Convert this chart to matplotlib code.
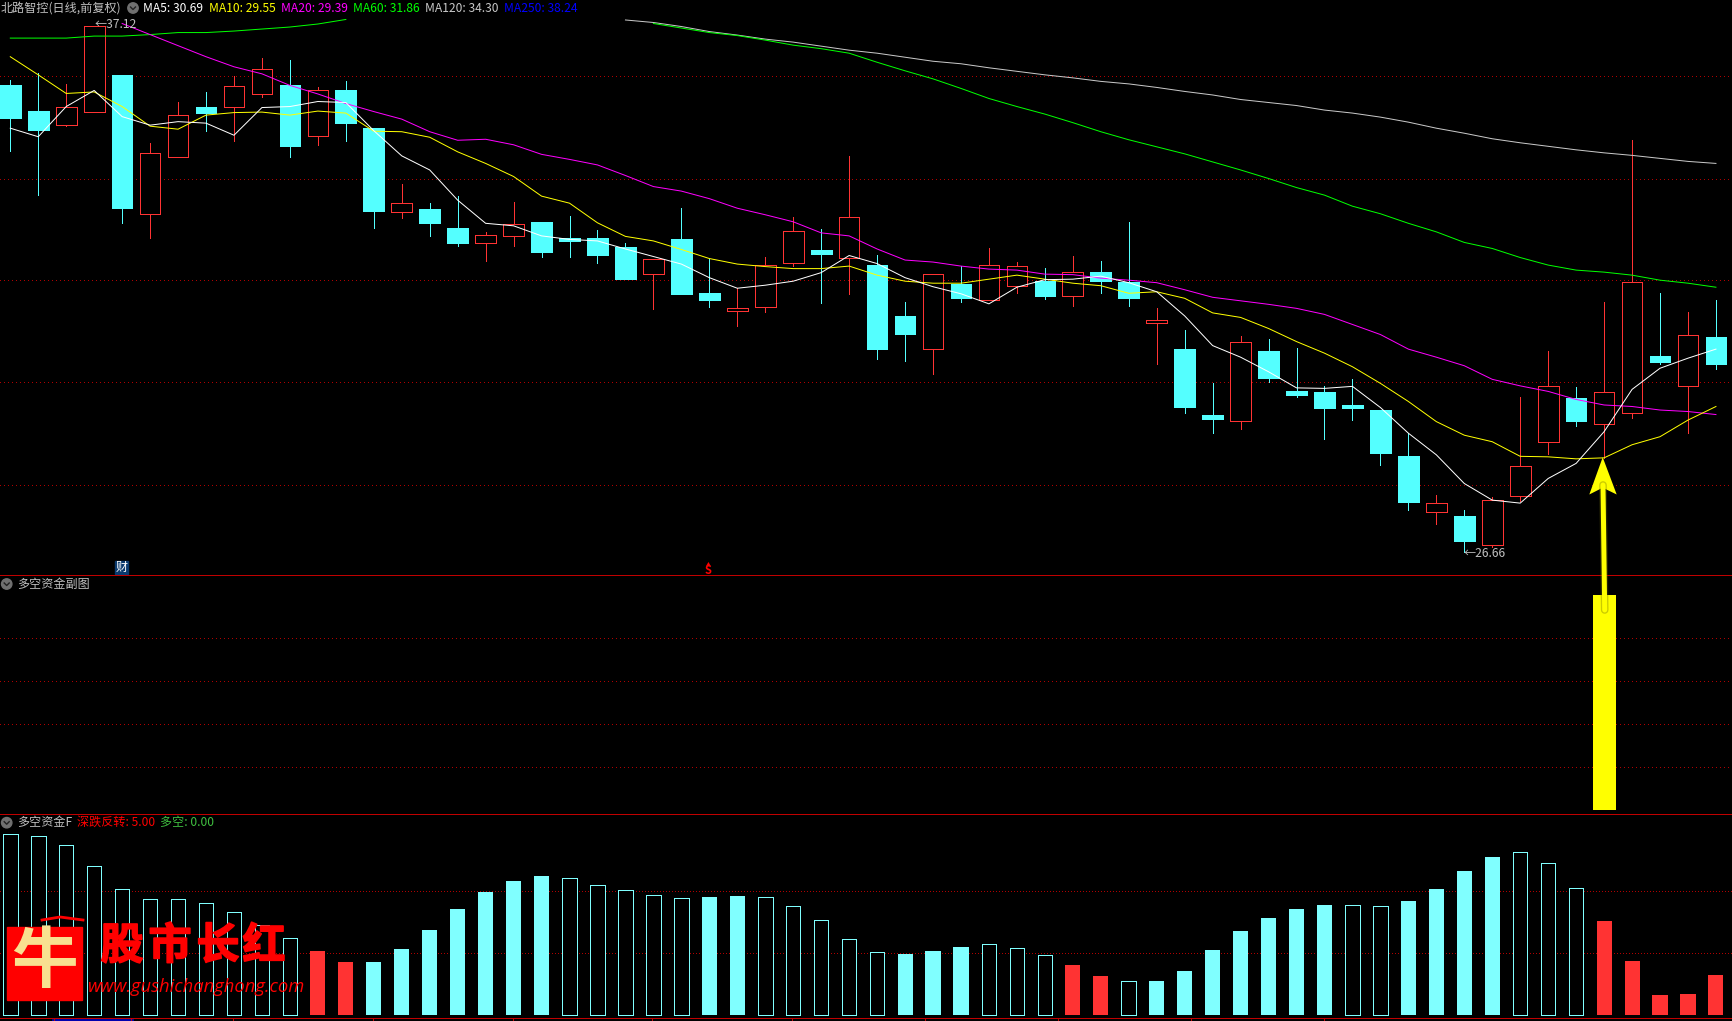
import matplotlib
matplotlib.use("Agg")
import matplotlib.pyplot as plt
from matplotlib.patches import Circle, Polygon, Rectangle
from matplotlib.patheffects import withStroke
import numpy as np

nan = float("nan")

# daily candles, price units
opens = [35.94, 35.42, 35.14, 35.41, 36.14, 33.38, 34.51, 35.50, 35.51, 35.75, 35.94, 34.93, 35.84, 35.08, 33.42, 33.47,
         33.10, 32.79, 32.94, 33.22, 32.89, 32.90, 32.72, 32.19, 32.88, 31.81, 31.45, 31.53, 32.41, 32.66, 32.51, 32.36,
         31.35, 30.70, 31.98, 31.67, 31.95, 32.04, 31.75, 32.22, 32.03, 31.20, 30.69, 29.38, 29.27, 30.65, 29.86, 29.84,
         29.58, 29.48, 28.57, 27.46, 27.38, 26.79, 27.78, 28.85, 29.72, 29.21, 29.43, 30.55, 29.95, 30.93]
highs = [36.04, 36.17, 35.96, 37.12, 36.14, 34.78, 35.60, 35.80, 36.12, 36.47, 36.44, 35.89, 36.02, 35.08, 33.97, 33.59,
         33.73, 33.01, 33.61, 33.22, 33.34, 33.06, 32.80, 32.49, 33.49, 32.49, 31.90, 32.52, 33.31, 33.07, 34.53, 32.56,
         31.63, 32.18, 32.34, 32.70, 32.43, 32.30, 32.54, 32.44, 33.22, 31.51, 31.07, 30.02, 30.95, 30.89, 30.71, 29.96,
         30.10, 29.48, 29.02, 27.79, 27.49, 27.75, 29.74, 30.65, 29.94, 31.63, 34.85, 31.81, 31.43, 31.67]
lows = [34.63, 33.75, 35.12, 35.41, 33.20, 32.90, 34.51, 35.02, 34.83, 35.70, 34.51, 34.75, 34.83, 33.10, 33.30, 32.94,
        32.74, 32.44, 32.74, 32.52, 32.52, 32.40, 32.08, 31.49, 31.79, 31.53, 31.15, 31.43, 32.34, 31.61, 31.79, 30.49,
        30.45, 30.20, 31.63, 31.67, 31.81, 31.69, 31.55, 31.81, 31.55, 30.40, 29.42, 29.02, 29.10, 30.04, 29.74, 28.91,
        29.28, 28.39, 27.49, 27.22, 26.66, 26.76, 27.67, 28.61, 29.16, 28.53, 29.32, 30.40, 29.02, 30.30]
closes = [35.28, 35.04, 35.51, 37.12, 33.49, 34.58, 35.34, 35.38, 35.91, 36.25, 34.73, 35.83, 35.18, 33.43, 33.59, 33.20,
          32.80, 32.95, 33.17, 32.62, 32.84, 32.56, 32.08, 32.49, 31.79, 31.67, 31.50, 32.36, 33.03, 32.58, 33.31, 30.69,
          30.99, 32.18, 31.71, 32.36, 32.34, 31.75, 32.22, 32.04, 31.71, 31.27, 29.54, 29.30, 30.83, 30.12, 29.78, 29.52,
          29.52, 28.63, 27.65, 27.63, 26.88, 27.69, 28.36, 29.95, 29.26, 29.83, 32.02, 30.44, 30.97, 30.40]

ma5 = [35.08, 34.91, 35.51, 35.83, 35.31, 35.14, 35.21, 35.18, 34.94, 35.49, 35.51, 35.61, 35.59, 35.03, 34.53, 34.25,
       33.65, 33.19, 33.14, 32.94, 32.87, 32.84, 32.68, 32.53, 32.38, 32.11, 31.90, 31.96, 32.04, 32.21, 32.55, 32.39,
       32.11, 31.93, 31.79, 31.59, 31.92, 32.07, 32.08, 32.14, 32.01, 31.83, 31.35, 30.76, 30.53, 30.24, 29.92, 29.91,
       29.95, 29.53, 29.02, 28.59, 28.02, 27.69, 27.63, 28.12, 28.42, 29.05, 29.89, 30.31, 30.51, 30.69]
ma10 = [36.50, 36.14, 35.77, 35.80, 35.51, 35.12, 35.06, 35.34, 35.39, 35.40, 35.34, 35.42, 35.38, 35.02, 35.01, 34.90,
        34.61, 34.38, 34.12, 33.73, 33.59, 33.20, 32.93, 32.84, 32.67, 32.49, 32.38, 32.33, 32.29, 32.29, 32.34, 32.16,
        32.04, 32.00, 32.00, 32.08, 32.16, 32.08, 32.00, 31.95, 31.80, 31.83, 31.70, 31.41, 31.32, 31.10, 30.84, 30.61,
        30.34, 30.01, 29.65, 29.25, 28.98, 28.85, 28.56, 28.55, 28.51, 28.53, 28.79, 28.95, 29.28, 29.55]
ma20 = [nan, nan, nan, nan, 37.16, 36.94, 36.72, 36.50, 36.30, 36.16, 35.93, 35.76, 35.57, 35.41, 35.26, 35.01,
        34.84, 34.86, 34.75, 34.56, 34.46, 34.35, 34.14, 33.92, 33.83, 33.68, 33.49, 33.36, 33.22, 33.00, 32.94, 32.68,
        32.46, 32.42, 32.34, 32.28, 32.26, 32.18, 32.17, 32.10, 32.06, 32.01, 31.87, 31.72, 31.65, 31.58, 31.50, 31.38,
        31.18, 30.98, 30.69, 30.53, 30.36, 30.09, 29.96, 29.85, 29.69, 29.58, 29.55, 29.48, 29.45, 29.39]
ma60 = [36.87, 36.87, 36.87, 36.91, 36.91, 36.94, 36.98, 36.98, 37.01, 37.05, 37.09, 37.15, 37.24, nan, nan, nan,
        nan, nan, nan, nan, nan, nan, nan, 37.16, 37.07, 36.98, 36.92, 36.83, 36.73, 36.66, 36.57, 36.39,
        36.22, 36.06, 35.87, 35.67, 35.51, 35.36, 35.19, 35.01, 34.85, 34.71, 34.57, 34.41, 34.25, 34.08, 33.90, 33.75,
        33.53, 33.38, 33.19, 33.02, 32.81, 32.69, 32.51, 32.36, 32.26, 32.22, 32.16, 32.06, 32.00, 31.92]
ma120 = [nan, nan, nan, nan, nan, nan, nan, nan, nan, nan, nan, nan, nan, nan, nan, nan,
         nan, nan, nan, nan, nan, nan, 37.23, 37.18, 37.10, 37.00, 36.93, 36.85, 36.79, 36.71, 36.63, 36.57,
         36.49, 36.41, 36.36, 36.28, 36.21, 36.14, 36.08, 36.01, 35.96, 35.89, 35.81, 35.74, 35.65, 35.59, 35.53, 35.44,
         35.38, 35.30, 35.20, 35.08, 34.98, 34.87, 34.79, 34.72, 34.65, 34.59, 34.54, 34.48, 34.42, 34.38]

price_grid = [36.11, 34.08, 32.06, 30.03, 28.00]

# 多空资金副图: one signal bar
signal_index = 57
signal_value = 5.0
signal_grid = [1, 2, 3, 4]

# 多空资金F
fund_values = [58.5, 57.8, 54.9, 48.1, 40.7, 37.4, 37.4, 36.1, 33.2, 29.0, 24.8, 20.7, 17.2, 17.2, 21.4, 27.5,
               34.3, 39.8, 43.4, 45.0, 44.2, 42.0, 40.4, 38.7, 37.8, 38.2, 38.5, 38.1, 35.2, 30.6, 24.5, 20.3,
               19.7, 20.7, 22.0, 22.9, 21.6, 19.3, 16.2, 12.6, 10.9, 11.0, 14.2, 21.0, 27.2, 31.4, 34.3, 35.6,
               35.5, 35.2, 36.9, 40.8, 46.6, 51.1, 52.7, 49.1, 41.0, 30.4, 17.5, 6.5, 6.8, 12.9]
fund_kinds = list("HHHHHHHHHHH" "RR" "FFFFFFF" "HHHHH" "FF" "HHHHH" "FFF" "HHH" "RR" "H" "FFFFFFF" "HH" "FFFF" "HHH" "RRRRR")
fund_grid = [20, 40]

CJK = ["Noto Sans CJK SC", "DejaVu Sans"]
RED = "#ff3333"
CYAN = "#54ffff"
FUND_CYAN = "#80ffff"
GRID = "#b00000"
LINE_PX = 0.72

W, H = 1733, 1021
plt.rcParams["font.family"] = CJK
fig = plt.figure(figsize=(W / 100, H / 100), dpi=100, facecolor="black")


def panel(top, bottom):
    ax = fig.add_axes([0, 1 - bottom / H, 1, (bottom - top) / H], facecolor="black")
    ax.set_xlim(-0.368, 61.61)
    ax.set_xticks([])
    ax.set_yticks([])
    for s in ax.spines.values():
        s.set_visible(False)
    return ax


def dotted(ax, values, lw=LINE_PX):
    for v in values:
        ax.axhline(v, color=GRID, lw=lw, ls=(0, (1, 3)), antialiased=False, zorder=1)


# candles
ax1 = panel(0, 575.3)
ax1.set_ylim(26.196, 37.627)
dotted(ax1, price_grid)
x = np.arange(len(opens))
for i in x:
    up = closes[i] > opens[i]
    color = RED if up else CYAN
    ax1.vlines(i, lows[i], highs[i], color=color, lw=LINE_PX, antialiased=False, zorder=2)
    top = max(opens[i], closes[i])
    bot = min(opens[i], closes[i])
    ax1.bar(i, top - bot, bottom=bot, width=0.74, color="black" if up else CYAN,
            edgecolor=color, linewidth=LINE_PX, antialiased=False, zorder=3)

for values, color in [(ma120, "#c8c8c8"), (ma60, "#00ff00"), (ma20, "#ff00ff"), (ma10, "#ffff00"), (ma5, "#ffffff")]:
    ax1.plot(x, values, color=color, lw=LINE_PX, zorder=4)

# signal panel
ax2 = panel(575.3, 814.3)
ax2.set_ylim(-0.093, 5.465)
dotted(ax2, signal_grid)
ax2.bar(signal_index, signal_value, width=0.82, color="#ffff00", zorder=3)

# fund bars
ax3 = panel(814.3, 1018.3)
ax3.set_ylim(-1.07, 64.95)
dotted(ax3, fund_grid, lw=LINE_PX * 0.8)
for i, (v, kind) in enumerate(zip(fund_values, fund_kinds)):
    if kind == "H":
        ax3.bar(i, v, width=0.52, color="black", edgecolor=FUND_CYAN, linewidth=LINE_PX, antialiased=False, zorder=3)
    else:
        ax3.bar(i, v, width=0.54, color=RED if kind == "R" else FUND_CYAN, zorder=3)

# everything drawn on the picture itself: captions, dividers, arrow, logo
ov = fig.add_axes([0, 0, 1, 1], facecolor="none", zorder=10)
ov.set_xlim(0, W)
ov.set_ylim(H, 0)
ov.axis("off")

for y in [575.3, 814.3, 1018.3]:
    ov.plot([0, W], [y, y], color="#c00000", lw=LINE_PX, antialiased=False)
ov.plot([53, 132], [1020, 1020], color="#0000b0", lw=2)
for tx in [54, 131, 233, 373, 513, 652, 792, 925, 1058, 1191, 1324]:
    ov.plot([tx, tx], [1018, 1021], color="#c00000", lw=LINE_PX, antialiased=False)


def label(px, py, s, color="#c0c0c0", size=8.7, **kw):
    ov.text(px, py, s, color=color, fontsize=size, va="center", ha="left", **kw)


def chevron(px, py):
    ov.add_patch(Circle((px, py), 5.2, color="#707070"))
    ov.plot([px - 2.5, px, px + 2.5], [py - 1, py + 1.5, py - 1], color="#222222", lw=1)


label(1, 8, "北路智控(日线,前复权)")
chevron(133, 8)
headers = [(143.5, "MA5: 30.69", "#ffffff"), (208.8, "MA10: 29.55", "#ffff00"), (280.7, "MA20: 29.39", "#ff00ff"),
           (352.7, "MA60: 31.86", "#00ff00"), (424.7, "MA120: 34.30", "#c8c8c8"), (503.8, "MA250: 38.24", "#0000ff")]
for px, s, c in headers:
    label(px, 8, s, c)

label(95, 24.5, "←37.12")
label(1464, 553.5, "←26.66")

ov.add_patch(Rectangle((115, 561), 13, 13, color="#0a3a6e"))
ov.text(121.5, 567.5, "财", color="white", fontsize=8.7, ha="center", va="center")
ov.text(708.5, 570, "S", color="#ff0000", fontsize=8, ha="center", va="center", fontweight="bold")
ov.text(708.5, 564, "▲", color="#ff0000", fontsize=3.5, ha="center", va="center")

chevron(6.7, 584)
label(17, 584, "多空资金副图")
chevron(6.7, 822.7)
label(16.6, 822.7, "多空资金F")
label(76.7, 822.7, "深跌反转: 5.00", "#ff0000")
label(159.7, 822.7, "多空: 0.00", "#40c040")

# yellow arrow onto the signal day
ov.plot([1604.7, 1603], [610, 485], color="#6a6a00", lw=5.5, solid_capstyle="round", alpha=0.35)
ov.plot([1604.7, 1603], [610, 485], color="#ffff00", lw=3.6, solid_capstyle="round")
ov.add_patch(Polygon([(1602.7, 457.3), (1616.7, 494.5), (1602.7, 487.7), (1589.3, 494.5)], closed=True,
                     facecolor="#ffff00", edgecolor="none"))

# watermark
ov.add_patch(Rectangle((7, 927), 75, 73, color="#ff0000"))
ov.plot([42, 60, 83], [920, 917, 920], color="#ff0000", lw=2)
ov.text(44, 962, "牛", color="#f8e090", fontsize=48, fontweight="bold", ha="center", va="center")
for px, ch in zip([122, 170, 218, 264], "股市长红"):
    ov.text(px, 946, ch, color="#ff0000", fontsize=31, fontweight="bold", ha="center", va="center",
            path_effects=[withStroke(linewidth=1.2, foreground="#ff0000")])
ov.text(88, 987, "www.gushichanghong.com", color="#ff0000", fontsize=13.2, style="italic",
        family="Open Sans", ha="left", va="center")

fig.savefig("out.png", dpi=100, facecolor="black")
